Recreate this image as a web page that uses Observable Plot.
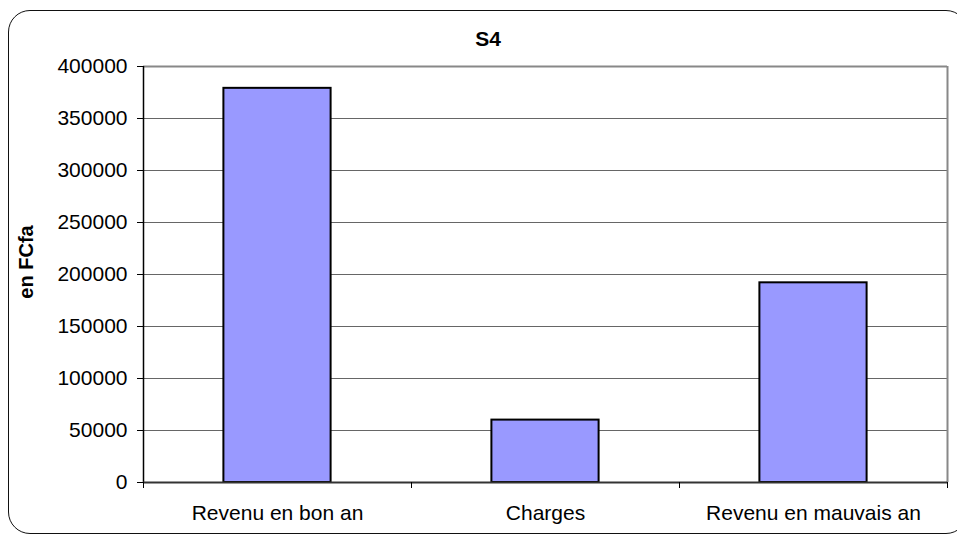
<!DOCTYPE html>
<html>
<head>
<meta charset="utf-8">
<script src="https://cdn.jsdelivr.net/npm/d3@7"></script>
<script src="https://cdn.jsdelivr.net/npm/@observablehq/plot@0.6"></script>
<style>
  html, body { margin: 0; padding: 0; background: #fff; }
  body { width: 957px; height: 537px; overflow: hidden; position: relative; font-family: "Liberation Sans", Arial, sans-serif; }
  #frame { position: absolute; left: 8px; top: 10px; width: 960px; height: 524px; border: 1.5px solid #111; border-radius: 22px; box-sizing: border-box; }
  #chart { position: absolute; left: 0; top: 0; }
  #title { position: absolute; left: 388px; width: 200px; top: 27px; text-align: center; font-weight: bold; font-size: 21px; line-height: 24px; }
  #ylabel { position: absolute; left: 26px; top: 262px; transform: translate(-50%, -50%) rotate(-90deg); font-weight: bold; font-size: 20px; white-space: nowrap; line-height: 20px; }
</style>
</head>
<body>
<div id="frame"></div>
<div id="chart"></div>
<div id="title">S4</div>
<div id="ylabel">en FCfa</div>
<script>
const categories = ["Revenu en bon an", "Charges", "Revenu en mauvais an"];
const values = [379000, 60000, 192000];
const yTicks = [0, 50000, 100000, 150000, 200000, 250000, 300000, 350000, 400000];

const data = categories.map((c, i) => ({category: c, index: i, value: values[i]}));
const barPad = 0.3;
const boundaries = d3.range(categories.length + 1);
const centers = categories.map((c, i) => i + 0.5);

const chart = Plot.plot({
  width: 957,
  height: 537,
  marginLeft: 143,
  marginRight: 10,
  marginTop: 66,
  marginBottom: 55,
  style: {fontFamily: "'Liberation Sans', Arial, sans-serif", fontSize: "21px", color: "#000", background: "transparent", overflow: "visible"},
  x: {domain: [0, categories.length], axis: null},
  y: {domain: [0, 400000], axis: null},
  marks: [
    Plot.ruleY(yTicks.filter(t => t > 0 && t < 400000), {stroke: "#666", strokeWidth: 1, strokeOpacity: 1}),
    Plot.ruleY([400000], {stroke: "#888", strokeWidth: 2}),
    Plot.ruleX([categories.length], {stroke: "#888", strokeWidth: 2}),
    Plot.rectY(data, {x1: d => d.index + barPad, x2: d => d.index + 1 - barPad, y1: 0, y2: "value", fill: "#9999FF", stroke: "#000", strokeWidth: 2}),
    Plot.ruleX([0], {stroke: "#000", strokeWidth: 1.5}),
    Plot.ruleY([0], {stroke: "#333", strokeWidth: 2}),
    Plot.axisY({ticks: yTicks, tickSize: 6, tickPadding: 10, tickFormat: d3.format("d"), label: null, stroke: "#000"}),
    Plot.axisX({ticks: boundaries, tickSize: 6, tickFormat: () => "", label: null, stroke: "#000"}),
    Plot.axisX({ticks: centers, tickSize: 0, tickPadding: 23, tickFormat: d => categories[Math.floor(d)], label: null})
  ]
});
document.getElementById("chart").appendChild(chart);
</script>
</body>
</html>
